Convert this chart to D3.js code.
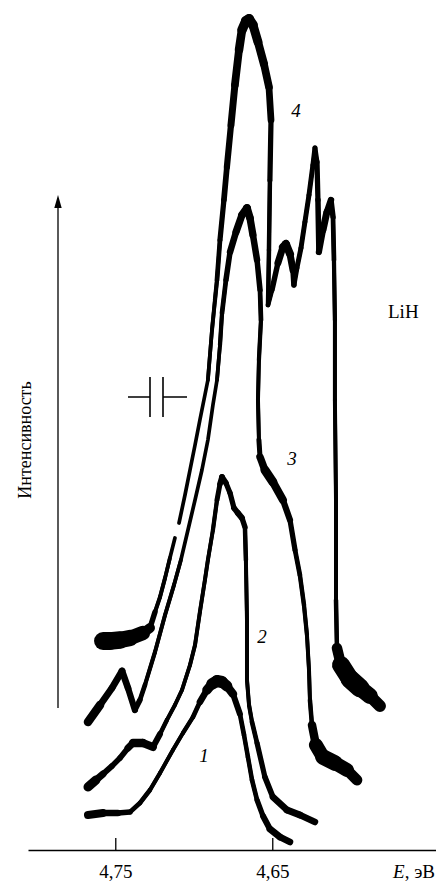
<!DOCTYPE html>
<html>
<head>
<meta charset="utf-8">
<script src="https://cdn.jsdelivr.net/npm/d3@7"></script>
<style>
  html, body { margin: 0; padding: 0; background: #fff; }
  svg { display: block; }
</style>
</head>
<body>
<svg id="chart" width="436" height="884"></svg>
<script>
// Photon energy ticks (eV)
const energyTicks = [4.75, 4.65];

// Luminescence spectra of LiH, stacked traces 1–4.
// Each point: [energy (eV), intensity (arb. units, incl. stacking offset), noise p-p (arb. units)]
const spectrum1 = [
  [4.7674, 3.5, 0.9], [4.7578, 3.7, 0.7], [4.7483, 3.7, 0.6], [4.7406, 3.8, 0.5],
  [4.7343, 4.7, 0.45], [4.7279, 6.0, 0.45], [4.7215, 7.7, 0.4], [4.7133, 10.0, 0.4],
  [4.7069, 11.7, 0.4], [4.7005, 13.3, 0.45], [4.6961, 14.8, 0.5], [4.6916, 16.0, 0.8],
  [4.6884, 16.6, 1.1], [4.6852, 16.9, 1.2], [4.6820, 16.8, 1.2], [4.6789, 16.4, 1.0],
  [4.6750, 15.6, 0.7], [4.6706, 13.6, 0.5], [4.6680, 11.5, 0.45], [4.6655, 9.3, 0.45],
  [4.6629, 7.0, 0.45], [4.6597, 5.0, 0.5], [4.6559, 3.4, 0.55], [4.6515, 2.1, 0.65],
  [4.6451, 1.3, 0.7], [4.6387, 0.8, 0.6]
];

const spectrum2 = [
  [4.7674, 6.3, 1.0], [4.7623, 7.0, 0.8], [4.7578, 7.6, 0.6], [4.7521, 8.4, 0.55],
  [4.7470, 9.2, 0.55], [4.7419, 10.2, 0.6], [4.7387, 10.7, 0.8], [4.7324, 10.7, 0.9],
  [4.7260, 10.3, 0.7], [4.7215, 11.6, 0.5], [4.7171, 13.0, 0.4], [4.7120, 14.5, 0.4],
  [4.7075, 16.0, 0.4], [4.7024, 18.5, 0.4], [4.6992, 20.5, 0.4], [4.6961, 23.8, 0.4],
  [4.6929, 27.0, 0.4], [4.6910, 29.0, 0.4], [4.6878, 32.0, 0.4], [4.6852, 35.0, 0.45],
  [4.6833, 36.6, 0.55], [4.6820, 37.3, 0.6], [4.6795, 36.7, 0.55], [4.6769, 35.7, 0.5],
  [4.6744, 34.2, 0.55], [4.6719, 33.7, 0.6], [4.6693, 33.2, 0.6], [4.6674, 32.3, 0.5],
  [4.6668, 29.0, 0.4], [4.6661, 23.0, 0.4], [4.6661, 17.0, 0.4], [4.6648, 14.5, 0.4],
  [4.6629, 12.8, 0.45], [4.6597, 10.7, 0.5], [4.6547, 7.3, 0.55], [4.6496, 5.3, 0.6],
  [4.6406, 4.0, 0.7], [4.6324, 3.5, 0.7], [4.6228, 2.8, 0.6]
];

const spectrum3 = [
  [4.7674, 12.8, 1.0], [4.7597, 14.5, 0.7], [4.7521, 16.2, 0.65], [4.7457, 17.9, 0.7],
  [4.7419, 16.2, 0.65], [4.7375, 14.0, 0.6], [4.7343, 15.0, 0.5], [4.7311, 16.5, 0.45],
  [4.7247, 19.8, 0.4], [4.7183, 23.5, 0.4], [4.7126, 26.5, 0.4], [4.7082, 29.0, 0.35],
  [4.7037, 32.0, 0.35], [4.6992, 35.0, 0.35], [4.6948, 38.0, 0.35], [4.6910, 41.0, 0.35],
  [4.6878, 44.5, 0.35], [4.6852, 47.0, 0.35], [4.6833, 50.5, 0.4], [4.6820, 53.7, 0.45],
  [4.6795, 57.0, 0.5], [4.6769, 59.8, 0.6], [4.6731, 61.8, 0.7], [4.6693, 63.5, 0.75],
  [4.6661, 64.2, 0.8], [4.6642, 63.2, 0.75], [4.6623, 61.5, 0.7], [4.6597, 59.0, 0.6],
  [4.6578, 56.0, 0.5], [4.6572, 53.0, 0.45], [4.6585, 49.0, 0.4], [4.6591, 45.0, 0.4],
  [4.6585, 41.0, 0.4], [4.6578, 39.3, 0.6], [4.6547, 38.0, 0.9], [4.6496, 36.8, 0.9],
  [4.6432, 35.0, 0.7], [4.6387, 33.0, 0.55], [4.6355, 30.0, 0.5], [4.6324, 27.5, 0.45],
  [4.6298, 24.5, 0.45], [4.6279, 21.5, 0.4], [4.6266, 18.0, 0.4], [4.6260, 15.0, 0.4],
  [4.6247, 12.5, 0.5], [4.6222, 10.5, 1.2], [4.6177, 9.3, 1.6], [4.6101, 8.7, 1.5],
  [4.6024, 8.0, 1.3], [4.5961, 7.0, 0.9]
];

// A null intensity marks the break in the recorder trace
const spectrum4 = [
  [4.7578, 20.9, 1.8], [4.7534, 20.9, 1.8], [4.7470, 21.0, 1.7], [4.7406, 21.2, 1.6],
  [4.7324, 21.7, 1.3], [4.7279, 22.2, 0.7], [4.7247, 23.8, 0.4], [4.7215, 25.3, 0.4],
  [4.7183, 27.2, 0.4], [4.7152, 29.2, 0.35], [4.7120, 31.2, 0.35], [4.7107, null, 0],
  [4.7094, 32.7, 0.35], [4.7056, 35.5, 0.35], [4.7024, 38.0, 0.35], [4.6992, 40.5, 0.35],
  [4.6961, 43.0, 0.35], [4.6929, 45.5, 0.35], [4.6910, 47.0, 0.35], [4.6884, 52.0, 0.4],
  [4.6865, 55.0, 0.4], [4.6852, 57.0, 0.45], [4.6833, 61.0, 0.5], [4.6808, 65.0, 0.55],
  [4.6789, 68.3, 0.6], [4.6763, 72.5, 0.65], [4.6738, 76.5, 0.75], [4.6712, 80.0, 0.8],
  [4.6693, 82.0, 0.9], [4.6668, 82.9, 1.0], [4.6648, 83.1, 1.0], [4.6623, 82.5, 0.95],
  [4.6591, 80.8, 0.85], [4.6553, 78.6, 0.8], [4.6521, 76.3, 0.75], [4.6508, 73.0, 0.6],
  [4.6515, 67.0, 0.45], [4.6521, 60.0, 0.45], [4.6527, 54.5, 0.45], [4.6502, 56.0, 0.5],
  [4.6464, 58.7, 0.6], [4.6432, 60.3, 0.8], [4.6413, 60.6, 0.8], [4.6387, 59.6, 0.8],
  [4.6368, 58.0, 0.6], [4.6362, 56.5, 0.5], [4.6343, 58.2, 0.5], [4.6317, 60.2, 0.5],
  [4.6292, 62.8, 0.5], [4.6266, 65.5, 0.5], [4.6241, 68.5, 0.5], [4.6228, 70.2, 0.5],
  [4.6215, 68.8, 0.5], [4.6209, 65.0, 0.55], [4.6203, 59.8, 0.55], [4.6177, 62.0, 0.7],
  [4.6152, 63.8, 0.7], [4.6126, 65.0, 0.6], [4.6113, 63.3, 0.5], [4.6107, 59.0, 0.45],
  [4.6101, 53.0, 0.4], [4.6101, 45.0, 0.4], [4.6094, 35.0, 0.4], [4.6094, 25.0, 0.4],
  [4.6088, 20.2, 0.5], [4.6062, 18.5, 1.6], [4.6005, 17.1, 2.0], [4.5941, 16.2, 1.8],
  [4.5878, 15.4, 1.4], [4.5814, 14.4, 1.0]
];

const spectra = [spectrum1, spectrum2, spectrum3, spectrum4];

// Trace numbers, placed in data coordinates
const curveLabels = [
  { text: "1", energy: 4.6935, intensity: 8.8 },
  { text: "2", energy: 4.6566, intensity: 20.7 },
  { text: "3", energy: 4.6375, intensity: 38.5 },
  { text: "4", energy: 4.6349, intensity: 73.3 }
];

const serif = "Liberation Serif, Times New Roman, DejaVu Serif, serif";
const svg = d3.select("#chart");

const x = d3.scaleLinear().domain([4.8056, 4.5457]).range([28, 436]);
const y = d3.scaleLinear().domain([0, 85]).range([850, 0]);

// Energy axis: ticks pointing up, labels below
const xAxis = d3.axisBottom(x)
  .tickValues(energyTicks)
  .tickSize(-12)
  .tickSizeOuter(0)
  .tickPadding(15)
  .tickFormat(d => d.toFixed(2).replace(".", ","));

svg.append("g")
  .attr("transform", `translate(0,${y(0)})`)
  .call(xAxis)
  .call(g => g.attr("font-family", serif).attr("font-size", 19))
  .call(g => g.selectAll("text").attr("fill", "#000"))
  .call(g => g.selectAll("line, path").attr("stroke", "#000").attr("stroke-width", 1.3));

// Axis title "E, эВ"
const eTitle = svg.append("text")
  .attr("x", 435).attr("y", 878)
  .attr("text-anchor", "end")
  .attr("font-family", serif).attr("font-size", 19).attr("fill", "#000");
eTitle.append("tspan").attr("font-style", "italic").text("E");
eTitle.append("tspan").text(", эВ");

// Intensity arrow
svg.append("line")
  .attr("x1", 58).attr("x2", 58).attr("y1", 708).attr("y2", 203)
  .attr("stroke", "#000").attr("stroke-width", 1.3);
svg.append("path")
  .attr("d", "M58,195 L54.3,208 L61.7,208 Z")
  .attr("fill", "#000");

svg.append("text")
  .attr("transform", "translate(31,440) rotate(-90)")
  .attr("text-anchor", "middle")
  .attr("font-family", serif).attr("font-size", 18).attr("fill", "#000")
  .text("Интенсивность");

// Spectral slit width symbol
svg.append("path")
  .attr("d", "M128,397 H150 M150,377 V417 M163,377 V417 M163,397 H187")
  .attr("fill", "none").attr("stroke", "#000").attr("stroke-width", 1.6);

// Sample label
svg.append("text")
  .attr("x", 388).attr("y", 318)
  .attr("font-family", serif).attr("font-size", 19).attr("fill", "#000")
  .text("LiH");

// Spectral traces: base line plus widened strokes where the recording is noisy
const baseWidth = 3.7;
const noisePx = n => y(0) - y(n);
const line = d3.line()
  .defined(d => d[1] != null)
  .x(d => x(d[0]))
  .y(d => y(d[1]));

const traces = svg.append("g");
spectra.forEach(s => {
  traces.append("path")
    .attr("d", line(s))
    .attr("fill", "none")
    .attr("stroke", "#000")
    .attr("stroke-width", baseWidth)
    .attr("stroke-linejoin", "round")
    .attr("stroke-linecap", "round");

  const segs = d3.pairs(s).filter(([a, b]) => a[1] != null && b[1] != null);
  traces.selectAll(null)
    .data(segs.filter(([a, b]) => noisePx((a[2] + b[2]) / 2) > baseWidth))
    .join("line")
    .attr("x1", ([a]) => x(a[0])).attr("y1", ([a]) => y(a[1]))
    .attr("x2", ([, b]) => x(b[0])).attr("y2", ([, b]) => y(b[1]))
    .attr("stroke", "#000")
    .attr("stroke-linecap", "round")
    .attr("stroke-width", ([a, b]) => noisePx((a[2] + b[2]) / 2));
});

// Trace numbers
svg.append("g")
  .selectAll("text")
  .data(curveLabels)
  .join("text")
  .attr("x", d => x(d.energy))
  .attr("y", d => y(d.intensity))
  .attr("text-anchor", "middle")
  .attr("font-family", serif).attr("font-style", "italic")
  .attr("font-size", 19).attr("fill", "#000")
  .text(d => d.text);
</script>
</body>
</html>
